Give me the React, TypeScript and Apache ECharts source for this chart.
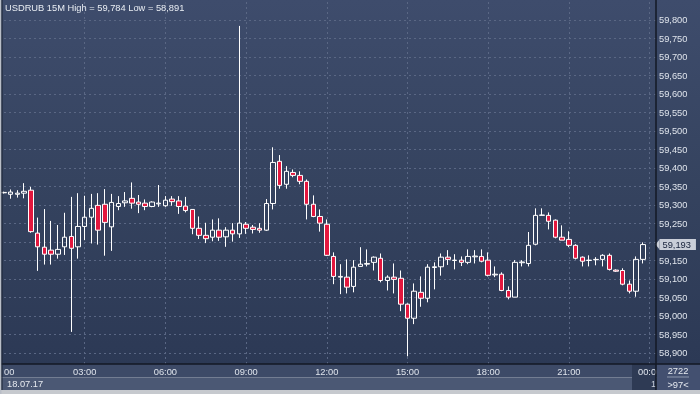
import React, { useEffect, useRef } from "react";
import * as echarts from "echarts";

// 15-minute bars of 18.07.17, bar index 0 = 00:00
const opens = [
  59.333, 59.329, 59.329, 59.332, 59.340, 59.224, 59.186, 59.178, 59.167, 59.187,
  59.215, 59.187, 59.242, 59.267, 59.299, 59.302, 59.241, 59.296, 59.306, 59.318,
  59.308, 59.305, 59.296, 59.303, 59.298, 59.316, 59.311, 59.297, 59.288, 59.237,
  59.218, 59.213, 59.232, 59.214, 59.232, 59.222, 59.248, 59.240, 59.237, 59.232,
  59.304, 59.418, 59.356, 59.388, 59.380, 59.364, 59.302, 59.269, 59.248, 59.161,
  59.105, 59.105, 59.080, 59.134, 59.140, 59.145, 59.156, 59.096, 59.105, 59.102,
  59.032, 58.994, 59.064, 59.048, 59.131, 59.133, 59.159, 59.150, 59.151, 59.145,
  59.160, 59.161, 59.151, 59.111, 59.113, 59.069, 59.051, 59.144, 59.142, 59.194,
  59.272, 59.272, 59.259, 59.213, 59.207, 59.191, 59.159, 59.150, 59.152, 59.153,
  59.164, 59.124, 59.123, 59.086, 59.067, 59.153,
];
const closes = [
  59.334, 59.335, 59.332, 59.337, 59.228, 59.187, 59.167, 59.167, 59.180, 59.213,
  59.183, 59.242, 59.267, 59.291, 59.232, 59.253, 59.307, 59.304, 59.311, 59.305,
  59.302, 59.296, 59.308, 59.305, 59.313, 59.309, 59.296, 59.285, 59.237, 59.218,
  59.209, 59.232, 59.213, 59.232, 59.222, 59.251, 59.237, 59.234, 59.232, 59.304,
  59.415, 59.353, 59.391, 59.380, 59.364, 59.302, 59.269, 59.251, 59.164, 59.107,
  59.107, 59.078, 59.132, 59.140, 59.142, 59.159, 59.096, 59.105, 59.099, 59.032,
  58.994, 59.067, 59.048, 59.132, 59.133, 59.159, 59.153, 59.151, 59.145, 59.161,
  59.162, 59.148, 59.110, 59.113, 59.069, 59.051, 59.145, 59.146, 59.191, 59.272,
  59.273, 59.256, 59.213, 59.205, 59.191, 59.156, 59.148, 59.151, 59.153, 59.164,
  59.126, 59.121, 59.086, 59.067, 59.153, 59.193,
];
const lows = [
  59.331, 59.317, 59.320, 59.318, 59.225, 59.122, 59.139, 59.139, 59.155, 59.165,
  58.957, 59.155, 59.205, 59.196, 59.193, 59.163, 59.176, 59.286, 59.295, 59.290,
  59.278, 59.286, 59.294, 59.295, 59.295, 59.298, 59.276, 59.280, 59.221, 59.208,
  59.197, 59.202, 59.203, 59.187, 59.201, 59.211, 59.222, 59.223, 59.225, 59.230,
  59.288, 59.344, 59.344, 59.375, 59.356, 59.261, 59.267, 59.228, 59.162, 59.086,
  59.059, 59.061, 59.064, 59.134, 59.134, 59.123, 59.091, 59.069, 59.061, 59.013,
  58.891, 58.978, 59.025, 59.037, 59.072, 59.109, 59.138, 59.126, 59.135, 59.140,
  59.142, 59.145, 59.107, 59.105, 59.067, 59.045, 59.051, 59.134, 59.134, 59.191,
  59.271, 59.234, 59.210, 59.205, 59.186, 59.153, 59.134, 59.134, 59.137, 59.134,
  59.123, 59.119, 59.083, 59.061, 59.052, 59.142,
];
const highs = [
  59.336, 59.342, 59.340, 59.359, 59.349, 59.266, 59.289, 59.257, 59.246, 59.279,
  59.322, 59.332, 59.325, 59.330, 59.332, 59.343, 59.330, 59.324, 59.335, 59.361,
  59.327, 59.315, 59.310, 59.354, 59.324, 59.324, 59.324, 59.322, 59.288, 59.269,
  59.252, 59.261, 59.264, 59.240, 59.251, 59.784, 59.254, 59.246, 59.251, 59.316,
  59.456, 59.435, 59.405, 59.396, 59.391, 59.369, 59.326, 59.288, 59.261, 59.172,
  59.140, 59.153, 59.151, 59.186, 59.180, 59.161, 59.169, 59.110, 59.142, 59.123,
  59.034, 59.088, 59.107, 59.140, 59.145, 59.169, 59.178, 59.167, 59.161, 59.180,
  59.178, 59.180, 59.172, 59.134, 59.118, 59.080, 59.151, 59.151, 59.227, 59.291,
  59.291, 59.280, 59.261, 59.245, 59.229, 59.194, 59.161, 59.164, 59.159, 59.167,
  59.169, 59.126, 59.129, 59.096, 59.161, 59.199,
];
const timeTicks = ["00", "03:00", "06:00", "09:00", "12:00", "15:00", "18:00", "21:00", "00:00"];
const titleText = "USDRUB 15M High = 59,784 Low = 58,891";
const lastPrice = 59.193;
const dateLabel = "18.07.17";
const boxTop = "2722";
const boxBottom = ">97<";

const FONT = "'Liberation Sans', Arial, sans-serif";

export default function App() {
  const ref = useRef<HTMLDivElement>(null);
  useEffect(() => {
    document.body.style.margin = "0";
    const chart = echarts.init(ref.current!, undefined, { renderer: "svg" });
    const data = opens.map((o, i) => [i, o, closes[i], lows[i], highs[i]]);
    const barStep = 6.725;
    const xMax = (656 - 4) / barStep;
    const yMax = 59.8 + 18 / 370;
    const yMin = 59.8 - 344 / 370;
    chart.setOption({
      animation: false,
      title: {
        text: titleText,
        left: 5,
        top: 3,
        padding: 0,
        textStyle: { color: "#e9edf3", fontSize: 9.3, fontWeight: "normal", fontFamily: FONT },
      },
      grid: { left: 4, right: 44, top: 2, bottom: 30, show: false },
      xAxis: {
        type: "value",
        min: 0,
        max: xMax,
        interval: 12,
        axisLine: { show: false },
        axisTick: { show: false },
        axisLabel: {
          color: "#dfe4ec",
          fontSize: 9.3,
          fontFamily: FONT,
          margin: 3,
          alignMinLabel: "left",
          showMaxLabel: false,
          formatter: (v: number) => {
            const k = v / 12;
            if (Math.abs(k - Math.round(k)) > 1e-6) return "";
            return timeTicks[Math.round(k)] ?? "";
          },
        },
        splitLine: {
          show: true,
          showMinLine: false,
          showMaxLine: false,
          lineStyle: { color: "#5a6784", type: [2, 3], width: 1 },
        },
      },
      yAxis: {
        type: "value",
        position: "right",
        min: yMin,
        max: yMax,
        minInterval: 0.05,
        maxInterval: 0.05,
        scale: true,
        axisLine: { show: false },
        axisTick: { show: false },
        axisLabel: {
          color: "#dfe4ec",
          fontSize: 9.3,
          fontFamily: FONT,
          margin: 3,
          showMinLabel: false,
          showMaxLabel: false,
          formatter: (v: number) => {
            if (Math.abs(v * 20 - Math.round(v * 20)) > 1e-6) return "";
            // the last-price tag covers the nearest tick label
            if (Math.abs(v - lastPrice) < 0.02) return "";
            return v.toFixed(3).replace(".", ",");
          },
        },
        splitLine: {
          show: true,
          showMinLine: false,
          showMaxLine: false,
          lineStyle: { color: "#5a6784", type: [2, 3], width: 1 },
        },
      },
      series: [
        {
          type: "candlestick",
          data,
          encode: { x: 0, y: [1, 2, 3, 4] },
          barWidth: 5,
          clip: false,
          itemStyle: {
            color: "rgba(0,0,0,0)",
            color0: "#e3173e",
            borderColor: "#ffffff",
            borderColor0: "#ffffff",
            borderWidth: 1,
          },
        },
        {
          // last-price tag on the price scale
          type: "scatter",
          z: 10,
          silent: true,
          clip: false,
          data: [[xMax, lastPrice]],
          symbol: "triangle",
          symbolRotate: 90,
          symbolSize: [10, 4],
          symbolOffset: [1.5, 0],
          itemStyle: { color: "#c9ced8", opacity: 1 },
          label: {
            show: true,
            position: "right",
            distance: 0,
            formatter: () => lastPrice.toFixed(3).replace(".", ","),
            backgroundColor: "#c9ced8",
            color: "#16213a",
            fontSize: 9.3,
            fontFamily: FONT,
            padding: [1, 5, 1, 3],
          },
        },
      ],
      graphic: [
        {
          type: "rect",
          z: -10,
          shape: { x: 0, y: 0, width: 700, height: 364 },
          style: {
            fill: {
              type: "linear",
              x: 0, y: 0, x2: 0, y2: 1,
              colorStops: [
                { offset: 0, color: "#3e4c6c" },
                { offset: 0.5, color: "#35435f" },
                { offset: 1, color: "#2c3955" },
              ],
            },
          },
        },
        { type: "rect", z: -9, shape: { x: 0, y: 364, width: 700, height: 13.5 }, style: { fill: "#3d4a67" } },
        { type: "rect", z: -9, shape: { x: 0, y: 377.5, width: 700, height: 13 }, style: { fill: "#4b5874" } },
        { type: "rect", z: -8, shape: { x: 632, y: 364, width: 24, height: 26 }, style: { fill: "#2e3a54" } },
        { type: "text", z: -7, x: 656, y: 384, style: { text: "1", fill: "#c9d0dc", font: `9px ${FONT}`, align: "right", verticalAlign: "middle" } },
        { type: "text", z: 5, x: 7, y: 384, style: { text: dateLabel, fill: "#e6eaf0", font: `9.3px ${FONT}`, verticalAlign: "middle" } },
        { type: "rect", z: 15, shape: { x: 656.5, y: 364.5, width: 43.5, height: 26 }, style: { fill: "#435070" } },
        { type: "line", z: 16, shape: { x1: 667, y1: 377, x2: 689, y2: 377 }, style: { stroke: "#8e98ad", lineWidth: 1 } },
        { type: "text", z: 16, x: 678, y: 371, style: { text: boxTop, fill: "#e6eaf0", font: `9.3px ${FONT}`, align: "center", verticalAlign: "middle" } },
        { type: "text", z: 16, x: 678, y: 384.5, style: { text: boxBottom, fill: "#e6eaf0", font: `9.3px ${FONT}`, align: "center", verticalAlign: "middle" } },
        { type: "line", z: 17, shape: { x1: 0, y1: 364, x2: 700, y2: 364 }, style: { stroke: "#131925", lineWidth: 1.5 } },
        { type: "line", z: 17, shape: { x1: 656, y1: 0, x2: 656, y2: 390 }, style: { stroke: "#131925", lineWidth: 1.5 } },
        { type: "rect", z: 20, shape: { x: 0, y: 390, width: 700, height: 4 }, style: { fill: "#c6c9ce" } },
        { type: "rect", z: 20, shape: { x: 0, y: 0, width: 1.5, height: 394 }, style: { fill: "#b9bec7" } },
        { type: "line", z: 20, shape: { x1: 2, y1: 0, x2: 2, y2: 390 }, style: { stroke: "#1c2434", lineWidth: 1 } },
      ],
    });
    return () => chart.dispose();
  }, []);
  return <div ref={ref} style={{ position: "fixed", left: 0, top: 0, width: 700, height: 394 }} />;
}
